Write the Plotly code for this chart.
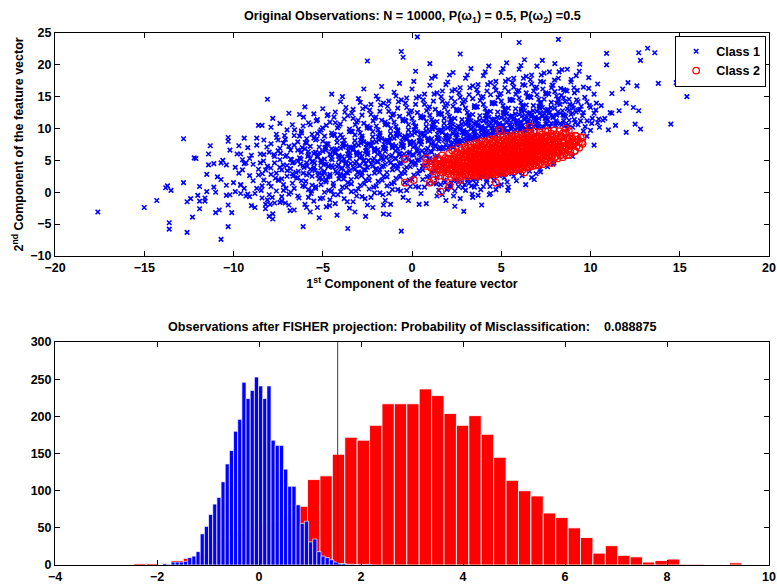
import numpy as np
import plotly.graph_objects as go

# ---------------- data ----------------
class1_points = [
(-17.6,-3.1),(-15.0,-2.4),(-14.3,-1.3),(-13.8,0.7),
(-13.7,1.0),(-13.5,0.3),(-13.6,-4.8),(-13.6,-5.8),(-12.8,8.4),(-12.8,1.5),
(-12.6,-6.3),(-12.6,-1.5),(-12.4,-1.0),(-12.3,-3.9),(-12.2,5.4),(-12.1,5.3),(-12.0,-0.5),(-11.9,-1.4),(-11.9,0.9),
(-11.9,-2.6),(-11.6,-1.4),(-11.6,-0.9),(-11.5,0.1),(-11.5,2.8),(-11.4,6.0),(-11.4,4.3),(-11.3,7.3),(-11.1,4.5),(-11.1,0.8),
(-11.0,0.0),(-11.0,-3.2),(-10.9,2.4),(-10.8,-2.8),(-10.7,2.0),(-10.7,-7.4),(-10.7,4.6),(-10.6,5.0),
(-10.4,4.3),(-10.4,1.1),(-10.3,-2.0),(-10.3,-5.4),(-10.3,8.0),(-10.3,8.6),(-10.4,-0.5),(-10.2,6.6),(-10.2,-0.4),(-10.1,-3.2),
(-10.0,1.5),(-9.9,3.9),(-9.9,0.1),(-9.8,6.0),(-9.7,7.3),(-9.7,3.0),(-9.6,1.2),(-9.6,-0.2),(-9.6,6.0),(-9.6,1.1),(-9.5,5.1),(-9.5,3.5),
(-9.4,0.6),(-9.4,8.5),(-9.4,4.5),(-9.3,4.6),(-9.3,-0.6),(-9.2,-0.3),(-9.1,5.3),(-9.1,2.6),(-9.1,-0.7),(-9.0,5.8),(-9.0,-2.1),
(-8.9,4.4),(-8.8,-0.2),(-8.8,-2.4),(-8.7,0.6),(-8.7,7.4),(-8.7,8.5),(-8.6,10.5),(-8.6,2.7),(-8.5,6.0),(-8.5,4.6),(-8.9,1.8),(-9.2,7.0),(-8.6,3.6),
(-8.4,1.0),(-8.4,10.5),(-8.3,1.9),(-8.3,5.9),(-8.2,3.5),(-8.1,14.6),(-8.1,-1.2),(-8.0,-3.8),(-8.0,-0.4),(-7.9,10.2),(-7.9,7.6),(-7.8,-4.2),
(-7.8,11.6),(-7.8,-3.4),(-7.7,-1.7),(-7.7,4.6),(-7.6,0.2),(-7.5,1.9),(-8.3,8.2),(-8.0,6.3),(-7.9,2.8),(-8.2,-1.9),(-7.6,9.1),(-7.7,5.6),
(-8.1,4.1),(-7.6,3.0),(-8.4,-0.9),(-7.9,0.9),
(-7.5,8.2),(-7.5,6.5),(-7.4,5.1),(-7.4,6.9),(-7.3,-0.7),(-7.3,3.5),(-7.2,7.7),(-7.2,0.3),(-7.1,-1.7),(-7.1,5.6),(-7.0,9.8),(-7.0,2.5),
(-6.9,-2.0),(-6.8,6.6),(-6.7,10.6),(-6.7,4.6),(-6.7,1.4),(-6.6,-2.8),(-6.6,8.9),(-6.9,12.4),(-7.3,2.1),(-6.8,3.7),(-7.0,4.2),(-6.6,7.4),
(-7.4,10.8),(-6.9,-0.3),(-7.2,1.2),(-6.8,5.2),(-6.6,0.6),(-7.1,8.3),(-6.7,2.9),(-7.4,-1.6),
(-6.5,3.1),(-6.4,7.9),(-6.4,-0.6),(-6.3,5.4),(-6.3,12.2),(-6.2,1.8),(-6.2,9.6),(-6.1,-5.4),(-6.1,4.2),(-6.0,13.4),(-6.0,6.8),(-6.0,-1.9),
(-5.9,2.7),(-5.9,8.4),(-5.8,0.4),(-5.8,5.9),(-5.8,10.9),(-5.7,3.6),(-5.7,-3.1),(-5.7,7.2),(-5.6,1.1),(-5.6,4.8),(-5.6,9.1),(-5.5,12.3),
(-5.5,6.1),(-6.4,2.3),(-6.2,6.3),(-6.0,0.9),(-5.9,4.6),(-5.8,-0.8),(-6.3,8.8),(-6.1,10.4),(-5.6,2.5),(-5.9,7.7),(-6.4,4.9),(-5.7,5.3),
(-6.1,3.0),(-5.5,-1.4),
(-5.5,3.9),(-5.4,8.2),(-5.4,0.6),(-5.3,5.7),(-5.3,11.4),(-5.3,-2.4),(-5.2,2.1),(-5.2,7.1),(-5.2,-4.0),(-5.1,4.6),(-5.1,9.8),(-5.1,1.2),
(-5.0,6.4),(-5.0,13.1),(-5.0,-0.9),(-4.9,3.3),(-4.9,8.8),(-4.9,5.2),(-4.8,-2.3),(-4.8,10.5),(-4.8,1.9),(-4.7,7.6),(-4.7,4.1),(-4.7,12.2),
(-4.6,-1.2),(-4.6,5.9),(-4.6,2.8),(-4.5,15.4),(-4.5,9.3),(-4.5,0.2),(-5.4,6.3),(-5.2,3.0),(-5.0,8.0),(-4.9,0.0),(-4.8,6.9),(-4.7,2.4),
(-5.3,9.2),(-5.1,5.0),(-4.6,11.0),(-5.0,2.7),(-4.8,4.4),(-4.5,6.8),
(-4.5,4.2),(-4.4,9.1),(-4.4,1.0),(-4.3,6.3),(-4.3,12.6),(-4.3,-1.8),(-4.2,3.0),(-4.2,7.8),(-4.2,-3.6),(-4.1,5.1),(-4.1,10.4),(-4.1,2.1),
(-4.0,6.9),(-4.0,14.2),(-4.0,0.1),(-3.9,3.8),(-3.9,8.6),(-3.9,5.6),(-3.8,-1.0),(-3.8,11.5),(-3.8,2.6),(-3.7,7.3),(-3.7,4.6),(-3.7,13.3),
(-3.6,-5.7),(-3.6,6.0),(-3.6,1.5),(-3.5,9.9),(-3.5,3.4),(-3.5,-2.5),(-4.4,6.6),(-4.2,4.0),(-4.0,9.0),(-3.9,0.8),(-3.8,7.6),(-3.7,3.1),
(-4.3,10.9),(-4.1,5.8),(-3.6,12.0),(-4.0,2.9),(-3.8,5.2),(-3.5,7.1),(-4.4,-0.4),(-3.9,15.0),(-3.6,4.1),(-4.2,8.4),
(-3.5,5.3),(-3.4,9.6),(-3.4,1.3),(-3.3,6.8),(-3.3,13.0),(-3.3,-1.5),(-3.2,3.6),(-3.2,8.1),(-3.2,-3.1),(-3.1,5.8),(-3.1,11.0),(-3.1,2.4),
(-3.0,7.4),(-3.0,14.7),(-3.0,0.5),(-2.9,4.2),(-2.9,9.3),(-2.9,6.1),(-2.8,-0.7),(-2.8,12.1),(-2.8,3.0),(-2.7,7.9),(-2.7,4.9),(-2.7,16.2),
(-2.6,-3.8),(-2.6,6.5),(-2.6,1.9),(-2.5,10.4),(-2.5,3.9),(-2.5,-2.0),(-3.4,7.0),(-3.2,4.5),(-3.0,9.9),(-2.9,1.1),(-2.8,8.5),(-2.7,3.5),
(-3.3,11.6),(-3.1,6.3),(-2.6,13.4),(-3.0,3.2),(-2.8,5.6),(-2.5,7.6),(-3.4,0.1),(-2.9,14.1),(-2.6,4.5),(-3.2,9.0),(-2.7,10.8),(-3.1,-0.6),
(-2.5,5.9),(-2.4,10.1),(-2.4,1.9),(-2.3,7.3),(-2.3,13.8),(-2.3,-0.8),(-2.2,4.1),(-2.2,8.7),(-2.2,-2.4),(-2.1,6.4),(-2.1,11.6),(-2.1,3.0),
(-2.0,7.9),(-2.0,15.1),(-2.0,1.0),(-1.9,4.8),(-1.9,9.8),(-1.9,6.7),(-1.8,-0.1),(-1.8,12.7),(-1.8,3.6),(-1.7,8.4),(-1.7,5.3),(-1.7,16.6),
(-1.6,-3.4),(-1.6,7.0),(-1.6,2.5),(-1.5,11.0),(-1.5,4.4),(-1.5,-1.3),(-2.4,7.6),(-2.2,5.0),(-2.0,10.4),(-1.9,1.7),(-1.8,9.0),(-1.7,4.0),
(-2.3,12.2),(-2.1,6.9),(-1.6,14.0),(-2.0,3.7),(-1.8,6.2),(-1.5,8.1),(-2.4,0.5),(-1.9,14.6),(-1.6,5.1),(-2.2,9.5),(-1.7,11.3),(-2.1,-0.1),
(-2.5,20.6),(-1.6,-2.0),
(-1.5,6.4),(-1.4,10.7),(-1.4,2.4),(-1.3,7.9),(-1.3,14.3),(-1.3,-0.2),(-1.2,4.6),(-1.2,9.2),(-1.2,-1.9),(-1.1,7.0),(-1.1,12.1),(-1.1,3.5),
(-1.0,8.5),(-1.0,15.7),(-1.0,1.5),(-0.9,5.3),(-0.9,10.3),(-0.9,7.3),(-0.8,0.4),(-0.8,13.2),(-0.8,4.1),(-0.7,9.0),(-0.7,5.9),(-0.7,17.1),
(-0.6,-6.1),(-0.6,7.6),(-0.6,3.0),(-0.5,11.5),(-0.5,4.9),(-0.5,-0.8),(-1.4,8.2),(-1.2,5.6),(-1.0,11.0),(-0.9,2.2),(-0.8,9.6),(-0.7,4.5),
(-1.3,12.7),(-1.1,7.5),(-0.6,14.5),(-1.0,4.2),(-0.8,6.8),(-0.5,8.6),(-1.4,1.0),(-0.9,15.1),(-0.6,5.6),(-1.2,10.0),(-0.7,11.9),(-1.1,0.4),
(-0.5,21.2),(-1.3,-3.5),(-0.6,22.1),
(-0.5,7.0),(-0.4,11.3),(-0.4,3.0),(-0.3,8.4),(-0.3,14.8),(-0.3,0.3),(-0.2,5.1),(-0.2,9.8),(-0.2,-1.3),(-0.1,7.5),(-0.1,12.6),(-0.1,4.0),
(0.0,9.0),(0.0,16.2),(0.0,2.0),(0.1,5.8),(0.1,10.9),(0.1,7.9),(0.2,0.9),(0.2,13.8),(0.2,4.6),(0.3,9.5),(0.3,6.4),(0.3,24.4),
(0.4,-1.9),(0.4,8.1),(0.4,3.4),(0.5,12.0),(0.5,5.4),(0.5,-0.2),(-0.4,8.8),(-0.2,6.1),(0.0,11.6),(0.1,2.7),(0.2,10.2),(0.3,5.0),
(-0.3,13.3),(-0.1,8.0),(0.4,15.0),(0.0,4.8),(0.2,7.3),(0.5,9.2),(-0.4,1.5),(0.1,17.4),(0.4,6.1),(-0.2,10.6),(0.3,12.5),(-0.1,0.9),
(0.2,19.0),(-0.3,3.9),
(0.5,7.5),(0.6,11.8),(0.6,3.5),(0.7,8.9),(0.7,15.4),(0.7,0.8),(0.8,5.7),(0.8,10.3),(0.8,-1.8),(0.9,8.0),(0.9,13.1),(0.9,4.6),
(1.0,9.6),(1.0,16.8),(1.0,2.5),(1.1,6.3),(1.1,11.4),(1.1,8.4),(1.2,1.4),(1.2,14.3),(1.2,6.9),(1.3,10.1),(1.3,7.3),(1.3,18.2),
(1.4,-0.6),(1.4,8.6),(1.4,2.3),(1.5,12.5),(1.5,6.8),(1.5,0.3),(0.6,9.3),(0.8,6.6),(1.0,12.1),(1.1,3.2),(1.2,10.7),(1.3,5.5),
(0.7,13.8),(0.9,8.5),(1.4,15.6),(1.0,5.3),(1.2,7.8),(1.5,9.7),(0.6,2.0),(1.1,17.9),(1.4,11.1),(0.8,11.1),(1.3,13.0),(0.9,1.4),
(1.0,20.2),(0.7,4.2),
(1.5,8.0),(1.6,12.3),(1.6,1.2),(1.7,9.4),(1.7,15.9),(1.7,-0.4),(1.8,7.0),(1.8,10.8),(1.8,1.9),(1.9,8.5),(1.9,13.6),(1.9,-1.3),
(2.0,10.1),(2.0,17.3),(2.0,0.6),(2.1,7.3),(2.1,11.9),(2.1,8.9),(2.2,1.5),(2.2,14.8),(2.2,7.6),(2.3,10.6),(2.3,9.2),(2.3,18.8),
(2.4,-2.2),(2.4,8.1),(2.4,0.2),(2.5,13.0),(2.5,7.4),(2.5,1.8),(1.6,9.8),(1.8,8.2),(2.0,12.6),(2.1,0.9),(2.2,11.2),(2.3,7.0),
(1.7,14.3),(1.9,9.0),(2.4,16.1),(2.0,8.3),(2.2,9.9),(2.5,10.2),(1.6,6.9),(2.1,18.4),(2.4,11.6),(1.8,11.6),(2.3,13.5),(1.9,16.9),
(2.5,8.6),(2.6,12.9),(2.6,0.9),(2.7,10.0),(2.7,16.4),(2.7,-1.0),(2.8,8.1),(2.8,11.4),(2.8,1.6),(2.9,9.1),(2.9,14.2),(2.9,-3.0),
(3.0,10.7),(3.0,17.9),(3.0,0.3),(3.1,8.4),(3.1,12.5),(3.1,9.5),(3.2,1.4),(3.2,15.3),(3.2,8.9),(3.3,11.2),(3.3,9.9),(3.3,19.4),
(3.4,-0.8),(3.4,8.7),(3.4,1.9),(3.5,13.6),(3.5,8.2),(3.5,0.8),(2.6,10.4),(2.8,9.4),(3.0,13.2),(3.1,2.0),(3.2,11.8),(3.3,8.5),
(2.7,14.9),(2.9,9.7),(3.4,16.7),(3.0,9.3),(3.2,10.5),(3.5,10.8),(2.6,7.9),(3.1,18.4),(3.4,12.2),(2.7,21.7),
(3.5,9.2),(3.6,13.4),(3.6,1.3),(3.7,10.6),(3.7,16.9),(3.7,-0.5),(3.8,8.8),(3.8,12.0),(3.8,2.2),(3.9,9.7),(3.9,14.8),(3.9,-2.0),
(4.0,11.2),(4.0,18.3),(4.0,0.9),(4.1,9.0),(4.1,13.1),(4.1,10.1),(4.2,1.9),(4.2,15.9),(4.2,9.5),(4.3,11.8),(4.3,10.4),(4.3,19.8),
(4.4,-0.2),(4.4,9.3),(4.4,2.5),(4.5,14.1),(4.5,8.9),(3.6,11.0),(3.8,10.0),(4.0,13.8),(4.1,2.6),(4.2,12.4),(4.3,8.8),(3.7,15.5),
(3.9,10.3),(4.4,17.2),(4.0,9.8),(4.2,11.0),(4.5,11.4),(3.6,8.5),(4.1,18.9),(4.4,12.7),
(4.6,9.8),(4.6,14.0),(4.6,1.8),(4.7,11.1),(4.7,17.4),(4.7,0.4),(4.8,9.3),(4.8,12.6),(4.9,2.6),(4.9,10.2),(4.9,15.3),(5.0,11.7),
(5.0,18.8),(5.0,1.2),(5.1,9.4),(5.1,13.6),(5.1,10.6),(5.2,2.9),(5.2,16.4),(5.2,10.0),(5.3,12.3),(5.3,10.9),(5.3,20.3),(5.4,0.8),
(5.4,9.6),(5.5,14.6),(5.5,9.1),(4.6,11.5),(4.8,10.5),(5.0,14.3),(5.2,12.9),(5.3,9.3),(4.7,16.0),(4.9,10.8),(5.4,17.7),(5.0,10.3),
(5.2,11.5),(5.5,11.9),(5.1,19.4),(5.4,13.2),
(5.6,10.3),(5.6,14.5),(5.7,11.6),(5.7,17.9),(5.7,2.5),(5.8,9.8),(5.8,13.1),(5.9,10.7),(5.9,15.8),(6.0,12.2),(6.0,19.3),(6.0,23.5),
(6.1,9.9),(6.1,14.1),(6.1,11.1),(6.2,16.9),(6.2,10.5),(6.3,12.8),(6.3,11.4),(6.3,20.8),(6.4,9.7),(6.5,15.1),(6.5,10.2),(5.6,12.0),
(5.8,11.0),(6.0,14.8),(6.2,13.4),(6.3,9.8),(5.7,16.5),(5.9,11.3),(6.4,18.2),(6.0,10.8),(6.2,12.0),(6.5,12.4),(6.1,19.9),(6.4,13.7),
(6.6,10.8),(6.6,15.0),(6.7,12.1),(6.7,18.4),(6.7,2.3),(6.8,10.3),(6.8,13.6),(6.9,11.2),(6.9,16.3),(7.0,12.7),(7.0,19.8),(7.1,10.4),
(7.1,14.6),(7.1,11.6),(7.2,17.4),(7.2,3.2),(7.3,13.3),(7.3,11.9),(7.3,20.7),(7.4,10.2),(7.5,15.6),(7.5,10.7),(6.6,12.5),(6.8,11.5),
(7.0,15.3),(7.2,13.9),(6.7,17.0),(6.9,11.8),(7.4,18.7),(7.0,11.3),(7.2,12.5),(7.5,12.9),
(7.6,11.4),(7.6,15.5),(7.7,12.6),(7.7,18.9),(7.8,10.8),(7.8,14.1),(7.9,11.7),(7.9,16.8),(8.0,13.2),(8.0,20.2),(8.1,10.9),(8.1,15.1),
(8.1,12.1),(8.2,24.0),(8.2,17.9),(8.3,13.8),(8.3,12.4),(8.4,10.6),(8.5,16.1),(8.5,11.2),(7.6,13.0),(7.8,12.0),(8.0,15.8),(8.2,14.4),
(7.9,4.4),(8.4,19.2),
(8.6,11.9),(8.6,16.0),(8.7,13.1),(8.7,19.3),(8.8,11.3),(8.8,14.6),(8.9,12.2),(8.9,17.3),(9.0,13.7),(9.0,10.2),(9.1,11.4),(9.1,15.6),
(9.2,12.6),(9.2,18.3),(9.3,14.2),(9.3,10.6),(9.4,13.0),(9.4,20.1),(8.7,9.9),(9.0,5.6),
(9.6,12.5),(9.6,16.5),(9.7,10.3),(9.8,14.2),(9.8,8.8),(9.9,18.0),(10.0,13.3),(10.0,9.7),(10.1,11.6),(10.2,15.4),(10.2,7.4),(10.3,12.9),
(10.4,10.9),(10.5,10.2),(10.4,17.0),
(10.6,13.6),(10.7,11.3),(10.8,11.6),(10.9,21.8),(10.9,20.0),(11.0,9.8),(11.1,12.5),(11.2,12.4),(11.2,15.5),(11.4,10.5),
(11.6,12.8),(11.8,16.2),(12.0,14.0),(12.0,9.4),(12.1,17.2),(12.4,13.3),(12.5,10.7),
(12.6,16.7),(12.7,12.8),(12.7,21.9),(12.8,9.9),(12.8,20.7),
(13.2,22.6),(13.6,21.9),(13.8,17.1),
(14.5,10.7),(14.8,17.2),(15.1,17.5),(15.4,15.0),
# denser core of class 1
(-8.45,0.3),(-8.32,4.9),(-8.21,-2.6),(-8.13,7.1),(-8.02,1.4),(-7.91,3.8),(-7.83,-0.8),(-7.74,5.9),(-7.66,2.2),(-7.58,8.6),(-8.38,2.9),(-7.95,-1.9),
(-7.46,1.9),(-7.37,6.1),(-7.3,-1.4),(-7.21,4.3),(-7.14,8.9),(-7.06,0.6),(-6.99,3.4),(-6.9,7.2),(-6.83,-2.9),(-6.75,5.1),(-6.67,2.5),(-6.58,9.8),
(-7.41,3.9),(-7.02,5.8),(-6.79,0.0),(-6.62,4.7),
(-6.46,2.2),(-6.4,6.6),(-6.33,-0.9),(-6.26,4.4),(-6.19,9.3),(-6.12,1.0),(-6.05,3.9),(-5.98,7.8),(-5.91,-2.4),(-5.84,5.6),(-5.77,2.9),(-5.7,10.6),
(-5.63,0.2),(-5.56,4.8),(-5.5,8.5),(-6.37,3.3),(-6.22,5.2),(-6.08,11.8),(-5.95,1.7),(-5.81,6.4),(-5.66,-0.2),(-5.52,3.6),(-6.15,7.0),(-5.88,4.1),
(-5.46,4.6),(-5.4,0.9),(-5.33,8.4),(-5.27,2.7),(-5.2,6.2),(-5.14,-1.0),(-5.08,5.0),(-5.01,10.1),(-4.95,3.1),(-4.88,7.0),(-4.82,1.6),(-4.75,12.0),
(-4.69,4.0),(-4.62,-2.1),(-4.56,6.0),(-4.5,8.9),(-5.43,3.4),(-5.3,5.5),(-5.17,9.5),(-5.04,2.0),(-4.92,4.4),(-4.79,7.6),(-4.66,0.3),(-4.53,5.3),
(-5.36,11.2),(-5.11,3.8),(-4.85,6.6),(-4.59,2.5),
(-4.47,5.1),(-4.41,1.4),(-4.34,9.0),(-4.28,3.3),(-4.21,6.8),(-4.15,-0.4),(-4.09,5.6),(-4.02,10.7),(-3.96,3.7),(-3.89,7.6),(-3.83,2.1),(-3.76,12.6),
(-3.7,4.5),(-3.63,-1.5),(-3.57,6.5),(-3.51,9.5),(-4.44,3.9),(-4.31,6.1),(-4.18,10.1),(-4.05,2.6),(-3.93,4.9),(-3.8,8.2),(-3.67,0.8),(-3.54,5.9),
(-4.37,11.8),(-4.12,4.3),(-3.86,7.1),(-3.6,3.0),
(-3.47,5.7),(-3.41,2.0),(-3.34,9.5),(-3.28,3.8),(-3.21,7.4),(-3.15,0.2),(-3.09,6.1),(-3.02,11.3),(-2.96,4.2),(-2.89,8.2),(-2.83,2.6),(-2.76,13.1),
(-2.7,5.0),(-2.63,-1.0),(-2.57,7.0),(-2.51,10.1),(-3.44,4.5),(-3.31,6.6),(-3.18,10.6),(-3.05,3.1),(-2.93,5.4),(-2.8,8.8),(-2.67,1.3),(-2.54,6.4),
(-3.37,12.4),(-3.12,4.8),(-2.86,7.7),(-2.6,3.5),
(-2.47,6.2),(-2.41,2.5),(-2.34,10.1),(-2.28,4.4),(-2.21,7.9),(-2.15,0.8),(-2.09,6.6),(-2.02,11.8),(-1.96,4.8),(-1.89,8.7),(-1.83,3.2),(-1.76,13.7),
(-1.7,5.6),(-1.63,-0.4),(-1.57,7.5),(-1.51,10.6),(-2.44,5.0),(-2.31,7.2),(-2.18,11.2),(-2.05,3.6),(-1.93,6.0),(-1.8,9.3),(-1.67,1.9),(-1.54,6.9),
(-2.37,12.9),(-2.12,5.3),(-1.86,8.2),(-1.6,4.1),
(-1.47,6.8),(-1.41,3.1),(-1.34,10.6),(-1.28,4.9),(-1.21,8.5),(-1.15,1.3),(-1.09,7.2),(-1.02,12.3),(-0.96,5.3),(-0.89,9.2),(-0.83,3.7),(-0.76,14.2),
(-0.7,6.1),(-0.63,0.2),(-0.57,8.0),(-0.51,11.2),(-1.44,5.5),(-1.31,7.7),(-1.18,11.7),(-1.05,4.2),(-0.93,6.5),(-0.8,9.8),(-0.67,2.4),(-0.54,7.4),
(-1.37,13.5),(-1.12,5.8),(-0.86,8.8),(-0.6,4.6),
(-0.47,7.3),(-0.41,3.6),(-0.34,11.2),(-0.28,5.4),(-0.21,9.0),(-0.15,1.9),(-0.09,7.7),(-0.02,12.8),(0.04,5.9),(0.11,9.8),(0.17,4.3),(0.24,14.8),
(0.3,6.7),(0.37,0.8),(0.43,8.6),(0.49,11.7),(-0.44,6.0),(-0.31,8.3),(-0.18,12.3),(-0.05,4.7),(0.07,7.1),(0.2,10.4),(0.33,2.9),(0.46,8.0),
(-0.37,14.0),(-0.12,6.3),(0.14,9.3),(0.4,5.1),
(0.53,7.9),(0.59,4.1),(0.66,11.7),(0.72,5.9),(0.79,9.6),(0.85,2.4),(0.91,8.2),(0.98,13.4),(1.04,6.4),(1.11,10.3),(1.17,4.8),(1.24,15.4),
(1.3,7.2),(1.37,1.3),(1.43,9.1),(1.49,12.2),(0.56,6.5),(0.69,8.8),(0.82,12.8),(0.95,5.2),(1.07,7.6),(1.2,11.0),(1.33,3.4),(1.46,8.5),
(0.63,14.5),(0.88,6.9),(1.14,9.9),(1.4,5.7),
(1.53,8.4),(1.59,4.6),(1.66,12.3),(1.72,6.8),(1.79,10.1),(1.85,1.5),(1.91,8.8),(1.98,13.9),(2.04,7.0),(2.11,10.9),(2.17,0.9),(2.24,15.9),
(2.3,7.8),(2.37,1.9),(2.43,9.7),(2.49,12.8),(1.56,7.1),(1.69,9.4),(1.82,13.3),(1.95,0.4),(2.07,8.2),(2.2,11.5),(2.33,-0.6),(2.46,9.0),
(1.63,15.0),(1.88,7.5),(2.14,10.4),(2.4,14.2),
(2.53,9.0),(2.59,1.6),(2.66,12.8),(2.72,7.6),(2.79,10.7),(2.85,0.7),(2.91,9.3),(2.98,14.5),(3.04,7.9),(3.11,11.4),(3.17,2.0),(3.24,16.4),
(3.3,8.3),(3.37,-0.3),(3.43,10.2),(3.49,13.3),(2.56,8.1),(2.69,9.9),(2.82,13.9),(2.95,1.2),(3.07,8.7),(3.2,12.1),(3.33,1.0),(3.46,9.6),
(2.63,15.6),(2.88,8.4),(3.14,11.0),(3.4,14.7),
(3.53,9.5),(3.59,2.0),(3.66,13.4),(3.72,8.4),(3.79,11.3),(3.85,0.4),(3.91,9.9),(3.98,15.0),(4.04,8.6),(4.11,12.0),(4.17,1.6),(4.24,16.9),
(4.3,8.9),(4.37,0.9),(4.43,10.8),(4.49,13.9),(3.56,8.9),(3.69,10.4),(3.82,14.4),(3.95,2.4),(4.07,9.3),(4.2,12.6),(4.33,-0.4),(4.46,10.1),
(3.63,16.1),(3.88,9.1),(4.14,11.6),(4.4,15.3),
(4.53,10.1),(4.59,1.9),(4.66,13.9),(4.72,9.0),(4.79,11.8),(4.85,1.0),(4.91,10.4),(4.98,15.5),(5.04,9.3),(5.11,12.5),(5.17,2.3),(5.24,17.4),
(5.3,9.5),(5.37,0.3),(5.43,11.3),(5.49,14.4),(4.56,9.4),(4.69,10.9),(4.82,14.9),(4.95,2.9),(5.07,9.8),(5.2,13.1),(5.33,1.6),(5.46,10.6),
(4.63,16.6),(4.88,9.6),(5.14,12.2),(5.4,15.8),
(5.53,10.6),(5.59,2.9),(5.66,14.4),(5.72,9.5),(5.79,12.3),(5.85,1.8),(5.91,10.9),(5.98,16.0),(6.04,9.7),(6.11,13.0),(6.17,2.6),(6.24,17.9),
(6.3,9.9),(6.37,1.2),(6.43,11.8),(6.49,14.9),(5.56,9.9),(5.69,11.4),(5.82,15.4),(5.95,3.2),(6.07,10.3),(6.2,13.6),(6.33,16.8),(6.46,11.1),
(5.63,17.2),(5.88,10.1),(6.14,12.7),(6.4,15.6),
(6.53,11.1),(6.59,3.3),(6.66,14.9),(6.72,9.9),(6.79,12.8),(6.85,2.0),(6.91,11.4),(6.98,16.5),(7.04,10.1),(7.11,13.5),(7.17,3.6),(7.24,18.4),
(7.3,10.3),(7.37,17.3),(7.43,12.3),(7.49,15.4),(6.56,10.4),(6.69,11.9),(6.82,15.9),(6.95,2.9),(7.07,10.7),(7.2,14.1),(7.33,16.2),(7.46,11.6),
(6.63,17.7),(6.88,10.6),(7.14,13.2),(7.4,14.6),
(7.53,11.6),(7.59,4.0),(7.66,15.4),(7.72,10.3),(7.79,13.3),(7.85,16.8),(7.91,11.9),(7.98,17.6),(8.04,10.5),(8.11,14.0),(8.17,12.6),(8.24,18.9),
(8.3,10.8),(8.37,15.2),(8.43,12.8),(8.49,14.8),(7.56,10.8),(7.69,12.4),(7.82,16.4),(7.95,4.6),(8.07,11.2),(8.2,14.6),(8.33,16.3),(8.46,12.1),
(8.53,12.1),(8.61,10.5),(8.69,15.9),(8.76,10.6),(8.84,13.8),(8.92,17.7),(8.99,12.4),(9.07,16.4),(9.14,10.9),(9.22,14.5),(9.29,12.9),(9.37,19.0),
(9.44,11.2),(8.57,14.2),(8.8,12.9),(9.03,13.2),(9.26,16.0),(9.48,13.5),
(9.55,12.0),(9.68,14.9),(9.81,11.2),(9.94,13.6),(10.07,10.8),(10.2,12.4),(10.33,14.0),(10.46,11.5),(9.6,9.6),(9.9,16.3),
]

class2_points = [
(1.05,3.9),(1.1,4.5),(1.2,3.3),(1.25,4.9),(1.3,3.8),(1.35,2.8),(1.4,4.3),(1.45,5.3),
(1.52,3.5),(1.55,5.0),(1.6,2.6),(1.63,4.2),(1.68,5.8),(1.72,3.1),(1.76,4.7),(1.8,3.9),(1.85,2.4),(1.88,5.4),(1.93,4.3),(1.97,3.3),
(2.02,4.6),(2.05,2.9),(2.08,6.1),(2.11,3.8),(2.15,5.3),(2.18,2.4),(2.21,4.2),(2.25,6.6),(2.28,3.4),(2.32,5.0),(2.35,2.7),(2.38,4.7),
(2.41,5.9),(2.44,3.9),(2.47,2.3),(2.49,5.5),
(2.51,4.4),(2.53,6.3),(2.55,2.8),(2.58,5.3),(2.6,3.6),(2.62,7.0),(2.65,4.8),(2.67,2.4),(2.7,5.9),(2.72,3.2),(2.75,4.1),(2.77,6.6),
(2.8,5.1),(2.82,2.6),(2.85,4.6),(2.87,3.8),(2.9,6.0),(2.92,2.9),(2.94,5.5),(2.96,4.0),(2.98,7.1),(2.99,3.4),
(3.01,5.0),(3.03,3.0),(3.05,6.8),(3.07,4.2),(3.09,2.5),(3.11,5.7),(3.13,3.6),(3.15,7.4),(3.17,4.7),(3.19,2.8),(3.21,6.2),(3.23,4.0),
(3.25,5.3),(3.27,3.2),(3.29,7.0),(3.31,4.5),(3.33,2.6),(3.35,6.0),(3.37,3.8),(3.39,5.6),(3.41,4.9),(3.43,2.9),(3.45,6.5),(3.46,4.3),
(3.47,7.6),(3.48,3.4),(3.49,5.2),(3.5,6.9),
(3.51,5.2),(3.52,3.1),(3.54,7.1),(3.55,4.4),(3.57,2.6),(3.58,6.0),(3.6,3.8),(3.61,7.7),(3.63,4.9),(3.64,2.9),(3.66,6.5),(3.67,4.2),
(3.69,5.6),(3.7,3.3),(3.72,7.4),(3.73,4.7),(3.75,2.5),(3.76,6.3),(3.78,4.0),(3.79,5.9),(3.81,5.1),(3.82,3.0),(3.84,6.8),(3.85,4.5),
(3.87,8.0),(3.88,3.6),(3.9,5.4),(3.91,7.2),(3.93,2.8),(3.94,6.1),(3.96,4.8),(3.97,3.4),(3.98,5.8),(3.99,7.5),
(4.01,5.5),(4.02,3.3),(4.04,7.4),(4.05,4.6),(4.06,2.7),(4.08,6.3),(4.09,4.0),(4.1,8.0),(4.12,5.1),(4.13,3.0),(4.15,6.8),(4.16,4.4),
(4.18,5.9),(4.19,3.5),(4.2,7.7),(4.22,4.9),(4.23,2.6),(4.25,6.6),(4.26,4.2),(4.27,6.1),(4.29,5.3),(4.3,3.2),(4.32,7.1),(4.33,4.7),
(4.35,8.3),(4.36,3.8),(4.37,5.7),(4.39,7.5),(4.4,2.9),(4.41,6.4),(4.43,5.0),(4.44,3.6),(4.45,6.0),(4.47,7.9),(4.48,4.3),(4.49,5.4),
(4.5,3.1),(4.46,6.9),
(4.51,5.7),(4.52,3.5),(4.53,7.7),(4.55,4.8),(4.56,2.9),(4.57,6.6),(4.59,4.2),(4.6,8.3),(4.61,5.3),(4.62,3.2),(4.64,7.1),(4.65,4.6),
(4.66,6.2),(4.68,3.7),(4.69,8.0),(4.7,5.1),(4.71,2.8),(4.73,6.9),(4.74,4.4),(4.75,6.4),(4.76,5.5),(4.78,3.4),(4.79,7.4),(4.8,4.9),
(4.81,8.6),(4.83,4.0),(4.84,6.0),(4.85,7.8),(4.86,3.1),(4.88,6.7),(4.89,5.2),(4.9,3.8),(4.91,6.3),(4.93,8.2),(4.94,4.5),(4.95,5.8),
(4.96,3.3),(4.97,7.2),(4.98,5.0),(4.99,4.1),
(5.01,6.0),(5.02,3.8),(5.03,8.0),(5.05,5.1),(5.06,3.1),(5.07,6.9),(5.09,4.5),(5.1,8.6),(5.11,5.6),(5.12,3.4),(5.14,7.4),(5.15,4.9),
(5.16,6.5),(5.18,4.0),(5.19,8.3),(5.2,5.4),(5.21,3.0),(5.23,7.2),(5.24,4.7),(5.25,6.7),(5.26,5.8),(5.28,3.6),(5.29,7.7),(5.3,5.2),
(5.31,8.9),(5.33,4.3),(5.34,6.3),(5.35,8.1),(5.36,3.3),(5.38,7.0),(5.39,5.5),(5.4,4.1),(5.41,6.6),(5.43,8.5),(5.44,4.8),(5.45,6.1),
(5.46,3.5),(5.47,7.5),(5.48,5.3),(5.49,4.4),
(5.51,6.2),(5.52,4.1),(5.53,8.2),(5.55,5.4),(5.56,3.4),(5.57,7.1),(5.59,4.8),(5.6,8.8),(5.61,5.9),(5.62,3.7),(5.64,7.6),(5.65,5.2),
(5.66,6.7),(5.68,4.3),(5.69,8.5),(5.7,5.7),(5.71,3.3),(5.73,7.4),(5.74,5.0),(5.75,6.9),(5.76,6.1),(5.78,3.9),(5.79,7.9),(5.8,5.5),
(5.81,9.1),(5.83,4.6),(5.84,6.5),(5.85,8.3),(5.86,3.6),(5.88,7.2),(5.89,5.8),(5.9,4.4),(5.91,6.8),(5.93,8.7),(5.94,5.1),(5.95,6.3),
(5.96,3.8),(5.97,7.7),(5.98,5.6),(5.99,4.7),
(6.01,6.5),(6.02,4.4),(6.04,8.4),(6.05,5.6),(6.06,3.7),(6.08,7.3),(6.09,5.0),(6.1,9.0),(6.12,6.1),(6.13,4.0),(6.15,7.8),(6.16,5.4),
(6.18,6.9),(6.19,4.6),(6.2,8.7),(6.22,5.9),(6.23,3.6),(6.25,7.6),(6.26,5.2),(6.27,7.1),(6.29,6.3),(6.3,4.2),(6.32,8.1),(6.33,5.7),
(6.35,9.3),(6.36,4.8),(6.37,6.7),(6.39,8.5),(6.4,3.9),(6.41,7.4),(6.43,6.0),(6.44,4.7),(6.45,7.0),(6.47,8.9),(6.48,5.3),(6.49,6.6),
(6.5,4.1),(6.46,7.9),
(6.51,6.7),(6.52,4.6),(6.54,8.6),(6.55,5.9),(6.57,4.0),(6.58,7.5),(6.6,5.3),(6.61,9.2),(6.63,6.4),(6.64,4.3),(6.66,8.0),(6.67,5.6),
(6.69,7.1),(6.7,4.9),(6.72,8.9),(6.73,6.2),(6.75,4.1),(6.76,7.8),(6.78,5.5),(6.79,7.3),(6.81,6.5),(6.82,4.5),(6.84,8.3),(6.85,6.0),
(6.87,9.5),(6.88,5.1),(6.9,6.9),(6.91,8.7),(6.93,4.2),(6.94,7.6),(6.96,6.3),(6.97,4.8),(6.98,7.2),(6.99,8.4),
(7.01,7.0),(7.03,4.9),(7.05,8.8),(7.07,6.1),(7.09,4.3),(7.11,7.7),(7.13,5.5),(7.15,9.4),(7.17,6.6),(7.19,4.6),(7.21,8.2),(7.23,5.9),
(7.25,7.3),(7.27,5.2),(7.29,9.1),(7.31,6.4),(7.33,4.4),(7.35,8.0),(7.37,5.7),(7.39,7.5),(7.41,6.8),(7.43,4.8),(7.45,8.5),(7.46,6.2),
(7.47,9.6),(7.48,5.3),(7.49,7.1),(7.5,8.9),
(7.51,7.2),(7.53,5.2),(7.55,8.9),(7.58,6.4),(7.6,4.8),(7.62,9.6),(7.65,6.9),(7.67,5.5),(7.7,8.3),(7.72,6.0),(7.75,7.7),(7.77,5.0),
(7.8,9.2),(7.82,6.6),(7.85,7.5),(7.87,5.7),(7.9,8.6),(7.92,6.2),(7.94,9.7),(7.96,7.0),(7.98,5.4),(7.99,8.1),
(8.02,7.5),(8.05,5.6),(8.08,9.1),(8.11,6.7),(8.15,5.3),(8.18,8.4),(8.21,6.2),(8.25,9.6),(8.28,7.1),(8.32,5.8),(8.35,8.7),(8.38,6.5),
(8.41,7.9),(8.44,5.5),(8.47,9.3),(8.49,7.3),
(8.52,7.7),(8.56,6.1),(8.6,9.2),(8.63,7.0),(8.67,5.8),(8.71,8.5),(8.75,6.6),(8.79,9.6),(8.83,7.4),(8.87,6.3),(8.91,8.8),(8.96,7.9),
(9.04,7.6),(9.1,6.5),(9.16,8.9),(9.22,7.2),(9.3,8.3),(9.37,7.0),(9.45,8.6),(9.52,7.9),(9.56,7.6),(9.56,8.6),
(-0.4,5.2),(-0.4,1.5),(0.1,1.9),(0.8,5.3),(0.8,4.6),(1.0,1.5),(1.2,1.9),(1.6,0.1),(2.1,1.0),(2.7,1.9),(4.7,1.5),
(6.3,3.1),(7.8,4.6),(8.8,5.9),(9.13,6.5),(9.17,8.8),(8.6,10.0),(6.6,10.3),(4.9,9.8),(0.8,4.1),
# inner core of class 2
(1.3,4.6),(1.4,3.6),(1.6,4.5),(1.7,3.7),(1.8,4.9),(1.9,3.6),(2.0,5.1),(2.1,4.4),(2.2,3.5),(2.3,4.4),(2.4,5.2),(2.45,3.2),
(2.55,4.0),(2.6,5.0),(2.7,3.8),(2.78,4.6),(2.85,5.7),(2.9,3.4),(2.97,4.7),(3.02,5.9),(3.08,3.9),(3.14,4.8),(3.2,6.5),(3.26,3.7),
(3.3,5.5),(3.36,4.2),(3.42,6.2),(3.47,3.9),(3.53,5.6),(3.6,4.6),(3.65,6.8),(3.7,3.9),(3.77,5.3),(3.83,4.3),(3.89,6.6),(3.95,3.8),
(4.0,5.9),(4.07,4.8),(4.12,6.9),(4.17,3.9),(4.22,5.6),(4.28,4.5),(4.34,6.6),(4.4,4.0),(4.45,5.8),(4.5,4.9),(4.55,7.1),(4.6,4.0),
(4.66,5.8),(4.72,4.7),(4.77,7.3),(4.82,4.3),(4.87,6.1),(4.92,5.0),(4.97,7.6),(5.02,4.4),(5.08,6.3),(5.13,5.2),(5.18,7.7),(5.22,4.4),
(5.28,6.2),(5.32,5.6),(5.37,7.9),(5.42,4.6),(5.47,6.6),(5.52,5.3),(5.57,8.0),(5.62,4.6),(5.67,6.5),(5.72,5.4),(5.77,7.8),(5.82,5.0),
(5.87,6.8),(5.92,5.9),(5.97,8.1),(6.02,4.9),(6.07,6.8),(6.12,5.7),(6.17,8.2),(6.21,5.1),(6.27,6.9),(6.32,6.0),(6.37,8.3),(6.42,5.2),
(6.47,7.0),(6.52,6.1),(6.57,8.3),(6.62,5.1),(6.67,7.2),(6.72,6.5),(6.77,8.5),(6.82,5.3),(6.87,7.4),(6.92,6.5),(6.97,8.6),(7.02,5.6),
(7.07,7.4),(7.12,6.7),(7.18,8.6),(7.23,5.7),(7.28,7.6),(7.34,6.8),(7.4,8.7),(7.44,6.0),(7.5,7.8),(7.56,7.0),(7.62,8.8),(7.68,6.3),
(7.74,8.0),(7.8,7.1),(7.86,8.9),(7.92,6.5),(7.98,7.8),(8.04,7.0),(8.1,8.7),(8.16,6.4),(8.22,7.8),(8.3,7.1),(8.36,8.8),(8.42,6.8),
(8.5,8.1),(8.58,7.2),(8.66,8.6),(8.74,7.6),(8.82,8.4),(8.9,7.3),(8.98,8.4),(9.08,8.0),(9.2,7.9),(9.35,7.9),
]

# histograms of the Fisher projection (50 bins each)
red_bin_left = -2.698
red_bin_width = 0.2433
red_counts = [0, 2, 2, 0, 6, 9, 14, 30, 35, 45,
              50, 55, 60, 65, 79, 115, 120, 149, 172, 168,
              188, 217, 217, 217, 237, 228, 204, 188, 201, 176,
              145, 114, 100, 93, 70, 64, 50, 37, 16, 26,
              13, 11, 4, 6, 8, 1, 1, 0, 0, 3]

blue_bin_left = -1.888
blue_bin_width = 0.0817
blue_counts = [2, 1, 4, 4, 4, 5, 10, 12, 18, 42,
               52, 68, 82, 91, 112, 136, 154, 180, 196, 246,
               224, 235, 253, 241, 224, 241, 168, 161, 161, 129,
               106, 106, 81, 56, 59, 31, 35, 18, 12, 10,
               7, 4, 2, 2, 1, 1, 0, 1, 0, 1]

threshold = 1.543

series_names = ["<b>Class 1</b>", "<b>Class 2</b>"]
top_title = "Original Observations: N = 10000, P(ω<sub>1</sub>) = 0.5, P(ω<sub>2</sub>) =0.5"
bottom_title = "Observations after FISHER projection: Probability of Misclassification:\u00a0\u00a0\u00a0 0.088875"
x_label_top = "1<sup>st</sup> Component of the feature vector"
y_label_top = "2<sup>nd</sup> Component of the feature vector"
top_x_ticks = [-20, -15, -10, -5, 0, 5, 10, 15, 20]
top_y_ticks = [-10, -5, 0, 5, 10, 15, 20, 25]
bottom_x_ticks = [-4, -2, 0, 2, 4, 6, 8, 10]
bottom_y_ticks = [0, 50, 100, 150, 200, 250, 300]

# ---------------- figure ----------------
FONT = "Liberation Sans, Arial, Helvetica, sans-serif"
BLUE = "#0000ff"
RED = "#ff0000"

fig = go.Figure()

c1x, c1y = zip(*class1_points)
c2x, c2y = zip(*class2_points)

fig.add_trace(go.Scatter(
    x=c1x, y=c1y, mode="markers", name=series_names[0],
    marker=dict(symbol="x-thin", size=4.5, color=BLUE, line=dict(width=1.6, color=BLUE)),
    xaxis="x", yaxis="y"))
fig.add_trace(go.Scatter(
    x=c2x, y=c2y, mode="markers", name=series_names[1],
    marker=dict(symbol="circle-open", size=6.5, color=RED, line=dict(width=1.25, color=RED)),
    xaxis="x", yaxis="y"))

red_centers = red_bin_left + red_bin_width * (np.arange(len(red_counts)) + 0.5)
blue_centers = blue_bin_left + blue_bin_width * (np.arange(len(blue_counts)) + 0.5)

fig.add_trace(go.Bar(
    x=red_centers, y=red_counts, width=red_bin_width, showlegend=False,
    marker=dict(color=RED, line=dict(color="rgba(255,255,255,0.85)", width=1)),
    xaxis="x2", yaxis="y2"))
fig.add_trace(go.Bar(
    x=blue_centers, y=blue_counts, width=blue_bin_width, showlegend=False,
    marker=dict(color=BLUE, line=dict(color="rgba(255,255,255,0.85)", width=0.8)),
    xaxis="x2", yaxis="y2"))

tickfont = dict(family=FONT, size=12.5, color="black", weight="bold")
label_font = dict(family=FONT, size=12.5, weight="bold", color="black")
title_font = dict(family=FONT, size=12.6, weight="bold", color="black")
axis_common = dict(showline=True, linecolor="black", linewidth=1, mirror="ticks",
                   ticks="inside", ticklen=5, tickcolor="black", showgrid=False,
                   zeroline=False, tickfont=tickfont, ticklabeloverflow="allow",
                   automargin=False)

fig.update_layout(
    width=777, height=585,
    margin=dict(l=55, r=8, t=33, b=20, autoexpand=False),
    paper_bgcolor="white", plot_bgcolor="white",
    barmode="overlay",
    xaxis=dict(domain=[0, 1], range=[-20, 20], tickvals=top_x_ticks, anchor="y",
               title=dict(text=x_label_top, font=label_font, standoff=1),
               **axis_common),
    yaxis=dict(domain=[0.581, 1], range=[-10, 25], tickvals=top_y_ticks, anchor="x",
               title=dict(text=y_label_top, font=label_font, standoff=3),
               **axis_common),
    xaxis2=dict(domain=[0, 1], range=[-4, 10], tickvals=bottom_x_ticks, anchor="y2", **axis_common),
    yaxis2=dict(domain=[0, 0.419], range=[0, 300], tickvals=bottom_y_ticks, anchor="x2", **axis_common),
    legend=dict(x=0.996, y=0.995, xanchor="right", yanchor="top",
                bgcolor="white", bordercolor="black", borderwidth=1,
                font=dict(family=FONT, size=12.5, weight="bold", color="black"),
                itemwidth=30, tracegroupgap=0),
    showlegend=True,
    annotations=[
        dict(text=top_title, x=0.5, y=1.0, xref="paper", yref="paper", xanchor="center", yanchor="bottom",
             yshift=6, showarrow=False, font=title_font),
        dict(text=bottom_title, x=0.5, y=0.419, xref="paper", yref="paper", xanchor="center", yanchor="bottom",
             yshift=6, showarrow=False, font=title_font),
    ],
    shapes=[dict(type="line", xref="x2", yref="y2 domain", x0=threshold, x1=threshold, y0=0, y1=1,
                 line=dict(color="#3a3a3a", width=1), layer="above")],
)

fig.write_html("out.html", config={"displayModeBar": False})

# remove the browser's default page margin so the figure sits at the window origin
with open("out.html", "r", encoding="utf-8") as fh:
    html = fh.read()
html = html.replace("<head>", "<head><style>html,body{margin:0;padding:0;}</style>", 1)
with open("out.html", "w", encoding="utf-8") as fh:
    fh.write(html)
